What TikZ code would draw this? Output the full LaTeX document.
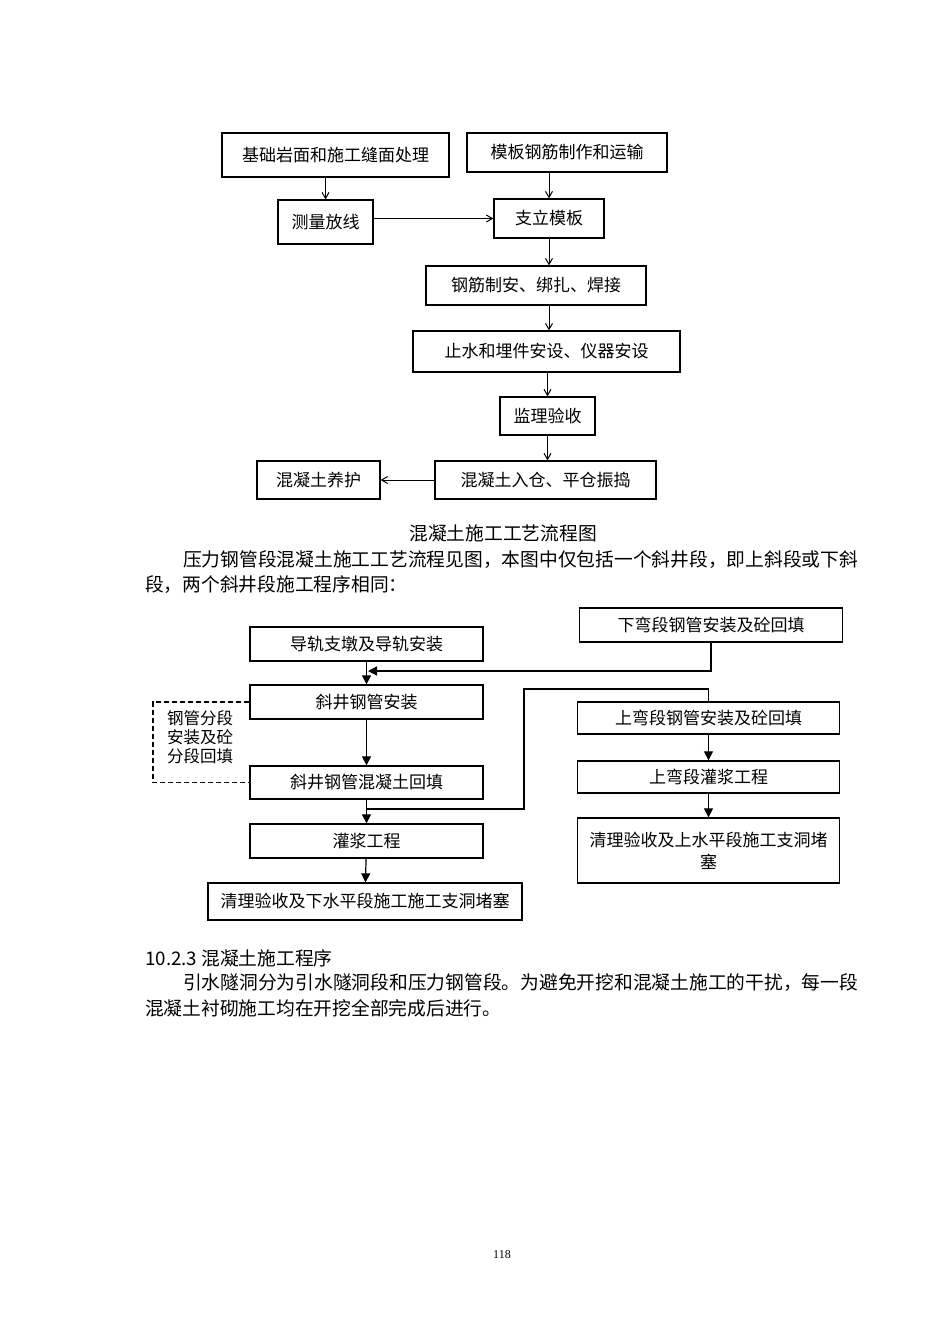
\documentclass[tikz,border=0pt]{standalone}
\usepackage{fontspec}
\setmainfont{Noto Sans CJK SC}
\newfontfamily\pagenumfont{Liberation Serif}
\usetikzlibrary{arrows.meta}

\begin{document}
\begin{tikzpicture}[x=1pt, y=-1pt,
    box/.style  ={draw, line width=1.3pt, inner sep=0pt, align=center, font=\fontsize{17}{22}\selectfont},
    txt/.style  ={inner sep=0pt, anchor=west, font=\fontsize{18.75}{22}\selectfont},
    barb/.style ={-{Straight Barb[length=6pt, width=7pt]}, line width=1pt},
    tri/.style  ={-{Triangle[length=9pt, width=9pt]}, line width=1.2pt}]
            \useasboundingbox (0,0) rectangle (950,1344);

            \node[box, minimum width=227, minimum height=44] (fA) at (335.5, 155.0) {基础岩面和施工缝面处理};
            \node[box, minimum width=200, minimum height=39] (fB) at (567.0, 152.5) {模板钢筋制作和运输};
            \node[box, minimum width= 95, minimum height=44] (fC) at (325.5, 222.0) {测量放线};
            \node[box, minimum width=110, minimum height=39] (fD) at (549.0, 218.5) {支立模板};
            \node[box, minimum width=220, minimum height=39] (fE) at (536.0, 285.5) {钢筋制安、绑扎、焊接};
            \node[box, minimum width=267, minimum height=41] (fF) at (546.5, 351.5) {止水和埋件安设、仪器安设};
            \node[box, minimum width= 95, minimum height=38] (fG) at (547.5, 416.0) {监理验收};
            \node[box, minimum width=221, minimum height=38] (fH) at (545.5, 480.0) {混凝土入仓、平仓振捣};
            \node[box, minimum width=123, minimum height=38] (fI) at (318.5, 480.0) {混凝土养护};

            \draw[barb] (fA.south -| fC)     -- (fC.north);
            \draw[barb] (fB.south -| fD)     -- (fD.north);
            \draw[barb] (fC.east |- fD)      -- (fD.west);
            \draw[barb] (fD.south)           -- (fD.south |- fE.north);
            \draw[barb] (fD.south |- fE.south) -- (fD.south |- fF.north);
            \draw[barb] (fG.north |- fF.south) -- (fG.north);
            \draw[barb] (fG.south)           -- (fG.south |- fH.north);
            \draw[barb] (fH.west)            -- (fI.east);

            \node[txt, anchor=center] (cap) at (503,533) {混凝土施工工艺流程图};
            \node[txt] (p1) at (183,560) {压力钢管段混凝土施工工艺流程见图，本图中仅包括一个斜井段，即上斜段或下斜};
            \node[txt] (p2) at (145,585) {段，两个斜井段施工程序相同：};

            \node[box, minimum width=233, minimum height=34] (gJ) at (366.5, 644.0) {导轨支墩及导轨安装};
            \node[box, minimum width=233, minimum height=34] (gK) at (366.5, 702.0) {斜井钢管安装};
            \node[box, minimum width=233, minimum height=33] (gL) at (366.5, 782.5) {斜井钢管混凝土回填};
            \node[box, minimum width=233, minimum height=34] (gN) at (366.5, 841.0) {灌浆工程};
            \node[box, minimum width=314, minimum height=37] (gS) at (365.0, 901.5) {清理验收及下水平段施工施工支洞堵塞};
            \node[box, minimum width=263, minimum height=34] (gM) at (711.0, 625.0) {下弯段钢管安装及砼回填};
            \node[box, minimum width=262, minimum height=32] (gP) at (708.5, 718.0) {上弯段钢管安装及砼回填};
            \node[box, minimum width=262, minimum height=32] (gQ) at (708.5, 777.0) {上弯段灌浆工程};
            \node[box, minimum width=262, minimum height=65] (gR) at (708.5, 850.5) {清理验收及上水平段施工支洞堵\\塞};

            \coordinate (jk)   at (368.0, 671.0);
            \coordinate (bend) at (524.0, 689.0);
            \coordinate (ln)   at (366.5, 809.0);
            \coordinate (dl)   at (153.0, 740.0);

            \draw[tri] (gJ) -- (gK);
            \draw[tri] (gK) -- (gL);
            \draw[tri] (gL) -- (gN);
            \draw[tri] (gN) -- (gS);
            \draw[tri] (gP) -- (gQ);
            \draw[tri] (gQ) -- (gR);
            \draw[tri] (gM.south) |- (jk);
            \draw[line width=1.2pt] (gP.north) |- (bend) |- (ln);
            \draw[line width=1.2pt, dash pattern=on 5pt off 3pt] (gK.west) -| (dl) |- (gL.west);
            \node[inner sep=0pt, align=left, font=\fontsize{16.5}{19}\selectfont] (dtxt) at (200,737) {钢管分段\\安装及砼\\分段回填};

            \node[txt] (h1) at (145, 958) {10.2.3 混凝土施工程序};
            \node[txt] (p3) at (183, 983) {引水隧洞分为引水隧洞段和压力钢管段。为避免开挖和混凝土施工的干扰，每一段};
            \node[txt] (p4) at (145,1008) {混凝土衬砌施工均在开挖全部完成后进行。};
            \node[inner sep=0pt, font=\pagenumfont\fontsize{12}{14}\selectfont] (pg) at (502,1255) {118};
\end{tikzpicture}
\end{document}
